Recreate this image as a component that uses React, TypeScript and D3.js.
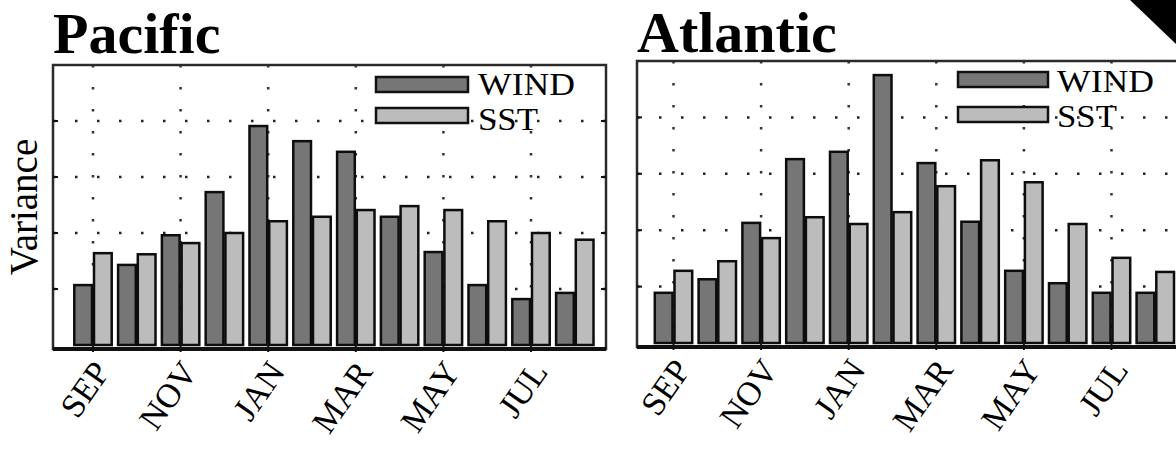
import React, { useRef, useEffect } from 'react';
import * as d3 from 'd3';

// months of the year shown on the x axis (Sep -> Aug)
const months = ['SEP', 'OCT', 'NOV', 'DEC', 'JAN', 'FEB', 'MAR', 'APR', 'MAY', 'JUN', 'JUL', 'AUG'];
const tickMonths = ['SEP', 'NOV', 'JAN', 'MAR', 'MAY', 'JUL'];
const seriesNames = ['WIND', 'SST'];
const yTicks = [1, 2, 3, 4];

// variance
const pacificWind = [1.07, 1.43, 1.96, 2.73, 3.91, 3.64, 3.45, 2.29, 1.66, 1.07, 0.82, 0.93];
const pacificSst = [1.64, 1.62, 1.82, 2.0, 2.21, 2.29, 2.41, 2.48, 2.41, 2.21, 2.0, 1.88];
const atlanticWind = [0.89, 1.13, 2.13, 3.26, 3.39, 4.75, 3.19, 2.15, 1.28, 1.06, 0.89, 0.89];
const atlanticSst = [1.28, 1.45, 1.86, 2.23, 2.11, 2.32, 2.78, 3.24, 2.85, 2.11, 1.51, 1.26];

const SERIF = '"Liberation Serif", "DejaVu Serif", serif';
const colors = { WIND: '#767676', SST: '#bcbcbc' };

function drawPanel(svg, p) {
  const g = svg.append('g');

  // y scale: 0..5 units
  const y = d3.scaleLinear().domain([0, 5]).range([p.y0, p.y5]);
  const step = 43.8;
  const x = d3
    .scaleBand()
    .domain(months)
    .range([p.sep - step / 2, p.sep + 11 * step + step / 2])
    .paddingInner(0.1)
    .paddingOuter(0.05);
  const xs = d3.scaleBand().domain(seriesNames).range([0, x.bandwidth()]);

  // title
  g.append('text')
    .attr('x', p.left)
    .attr('y', p.titleY)
    .style('font-family', SERIF)
    .style('font-weight', 'bold')
    .style('font-size', '58px')
    .text(p.title);

  // white plot area
  g.append('rect')
    .attr('x', p.left).attr('y', p.top)
    .attr('width', p.right - p.left).attr('height', p.bottom - p.top)
    .attr('fill', '#fff');

  // dotted grid
  g.append('g')
    .selectAll('line')
    .data(yTicks)
    .enter()
    .append('line')
    .attr('x1', p.left).attr('x2', p.right)
    .attr('y1', (d) => y(d)).attr('y2', (d) => y(d))
    .attr('stroke', '#222')
    .attr('stroke-width', 2.5)
    .attr('stroke-dasharray', '2.5,19.5');
  g.append('g')
    .selectAll('line')
    .data(tickMonths)
    .enter()
    .append('line')
    .attr('x1', (d) => x(d) + x.bandwidth() / 2).attr('x2', (d) => x(d) + x.bandwidth() / 2)
    .attr('y1', p.top).attr('y2', p.bottom)
    .attr('stroke', '#333')
    .attr('stroke-width', 2.5)
    .attr('stroke-dasharray', '2.5,19.5');

  // bars
  const rows = months.map((m, i) => ({ month: m, WIND: p.wind[i], SST: p.sst[i] }));
  g.append('g')
    .selectAll('g')
    .data(rows)
    .enter()
    .append('g')
    .attr('transform', (d) => `translate(${x(d.month)},0)`)
    .selectAll('rect')
    .data((d) => seriesNames.map((k) => ({ key: k, value: d[k] })))
    .enter()
    .append('rect')
    .attr('x', (d) => xs(d.key) + 1)
    .attr('y', (d) => y(d.value))
    .attr('width', xs.bandwidth() - 2)
    .attr('height', (d) => y(0) - y(d.value))
    .attr('fill', (d) => colors[d.key])
    .attr('stroke', '#0d0d0d')
    .attr('stroke-width', 2.5);

  // tick marks at the month ticks through the base
  g.append('g')
    .selectAll('line')
    .data(tickMonths)
    .enter()
    .append('line')
    .attr('x1', (d) => x(d) + x.bandwidth() / 2).attr('x2', (d) => x(d) + x.bandwidth() / 2)
    .attr('y1', p.bottom - 8).attr('y2', p.bottom + 3)
    .attr('stroke', '#111')
    .attr('stroke-width', 2);

  // frame
  g.append('rect')
    .attr('x', p.left).attr('y', p.top)
    .attr('width', p.right - p.left).attr('height', p.bottom - p.top)
    .attr('fill', 'none')
    .attr('stroke', '#2a2a2a')
    .attr('stroke-width', 2.5);
  g.append('line')
    .attr('x1', p.left).attr('x2', p.right)
    .attr('y1', p.bottom).attr('y2', p.bottom)
    .attr('stroke', '#111')
    .attr('stroke-width', 4);

  // y ticks on both sides
  [p.left, p.right].forEach((xx, side) => {
    g.append('g')
      .selectAll('line')
      .data(yTicks)
      .enter()
      .append('line')
      .attr('x1', xx).attr('x2', side === 0 ? xx + 5 : xx - 5)
      .attr('y1', (d) => y(d)).attr('y2', (d) => y(d))
      .attr('stroke', '#111')
      .attr('stroke-width', 2);
  });

  // x labels, rotated
  g.append('g')
    .selectAll('text')
    .data(tickMonths)
    .enter()
    .append('text')
    .attr('transform', (d) => `translate(${x(d) + x.bandwidth() / 2 + 18},${p.labelY})rotate(-55)`)
    .attr('text-anchor', 'end')
    .style('font-family', SERIF)
    .style('font-size', '34px')
    .text((d) => d);

  // legend
  const lg = g.append('g');
  seriesNames.forEach((k, i) => {
    lg.append('rect')
      .attr('x', p.legX).attr('y', p.legY[i])
      .attr('width', p.legW).attr('height', 15)
      .attr('fill', colors[k])
      .attr('stroke', '#111')
      .attr('stroke-width', 2.5);
    lg.append('text')
      .attr('x', p.legTextX).attr('y', p.legTextY[i])
      .style('font-family', SERIF)
      .style('font-size', '31px')
      .attr('textLength', k === 'WIND' ? 97 : 60)
      .attr('lengthAdjust', 'spacingAndGlyphs')
      .text(k);
  });

  if (p.yLabel) {
    g.append('text')
      .attr('transform', `translate(37,${(p.top + p.bottom) / 2})rotate(-90)`)
      .attr('text-anchor', 'middle')
      .style('font-family', SERIF)
      .style('font-size', '39px')
      .text(p.yLabel);
  }
}

function App() {
  const canvas = useRef(null);

  useEffect(() => {
    d3.select(canvas.current).select('svg').remove();
    const svg = d3
      .select(canvas.current)
      .append('svg')
      .attr('width', 1176)
      .attr('height', 449)
      .style('display', 'block')
      .style('background', '#fff');

    drawPanel(svg, {
      title: 'Pacific', titleY: 53, yLabel: 'Variance',
      left: 53, right: 606, top: 65, bottom: 349,
      y0: 345, y5: 65, sep: 93, labelY: 372,
      wind: pacificWind, sst: pacificSst,
      legX: 376, legW: 92, legY: [77, 108], legTextX: 478, legTextY: [95, 130],
    });
    drawPanel(svg, {
      title: 'Atlantic', titleY: 52, yLabel: null,
      left: 637, right: 1190, top: 61, bottom: 347,
      y0: 343, y5: 61, sep: 673.5, labelY: 370,
      wind: atlanticWind, sst: atlanticSst,
      legX: 958, legW: 90, legY: [72, 107], legTextX: 1057, legTextY: [92, 127],
    });

    // folded page corner in the top right
    svg.append('polygon')
      .attr('points', '1130,0 1176,0 1176,44')
      .attr('fill', '#000');
  }, []);

  return <div ref={canvas} style={{ position: 'absolute', left: 0, top: 0 }}></div>;
}

export default App;
